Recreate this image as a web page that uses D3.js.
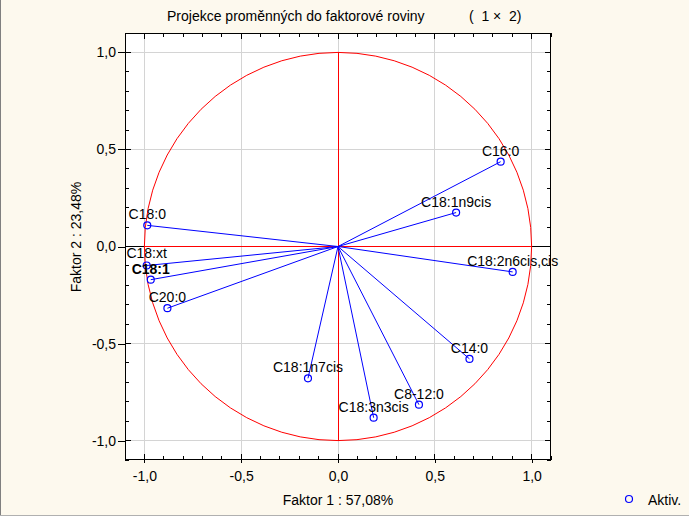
<!DOCTYPE html>
<html><head><meta charset="utf-8">
<script src="https://cdn.jsdelivr.net/npm/d3@7"></script>
<style>
html,body{margin:0;padding:0;background:#FDF9EE;}
text{font-family:"Liberation Sans",Arial,sans-serif;font-size:14px;fill:#000;}
</style></head>
<body>
<svg id="chart" width="689" height="516"></svg>
<script>
const variables = ["C16:0","C18:1n9cis","C18:2n6cis,cis","C14:0","C8-12:0","C18:3n3cis","C18:1n7cis","C18:0","C18:xt","C18:1","C20:0"];
const factor1 = [0.840,0.610,0.902,0.679,0.418,0.184,-0.155,-0.985,-0.988,-0.967,-0.881];
const factor2 = [0.437,0.175,-0.131,-0.579,-0.815,-0.882,-0.679,0.109,-0.098,-0.171,-0.318];
const boldLabel = [false,false,false,false,false,false,false,false,false,true,false];
const majorTicks = [-1.0,-0.5,0.0,0.5,1.0];
const title = "Projekce proměnných do faktorové roviny";
const titleSuffix = "(  1 \u00D7  2)";
const xTitle = "Faktor 1 : 57,08%";
const yTitle = "Faktor 2 : 23,48%";
const legendLabel = "Aktiv.";

const svg = d3.select("#chart");
const L=125,R=551,T=33,B=460;
const x = d3.scaleLinear().domain([-1.1,1.1]).range([L,R]);
const y = d3.scaleLinear().domain([-1.1,1.1]).range([B,T]);
const fmt = v => v.toFixed(1).replace(".",",");
const minorTicks = d3.range(-11,12).map(i=>i/10);

// window borders
svg.append("line").attr("x1",0.5).attr("x2",0.5).attr("y1",0).attr("y2",516).attr("stroke","#808080");
svg.append("line").attr("x1",0).attr("x2",689).attr("y1",515.5).attr("y2",515.5).attr("stroke","#b0b0b0");

// plot area
svg.append("rect").attr("x",L).attr("y",T).attr("width",R-L).attr("height",B-T).attr("fill","#fff");

// grid
const g = svg.append("g").attr("shape-rendering","crispEdges");
g.selectAll(".gx").data(majorTicks).join("line")
  .attr("x1",d=>x(d)).attr("x2",d=>x(d)).attr("y1",T).attr("y2",B).attr("stroke","#d4d4d4");
g.selectAll(".gy").data(majorTicks).join("line")
  .attr("y1",d=>y(d)).attr("y2",d=>y(d)).attr("x1",L).attr("x2",R).attr("stroke","#d4d4d4");
g.append("line").attr("x1",L).attr("x2",R).attr("y1",y(0)).attr("y2",y(0)).attr("stroke","#000");

// unit circle and red axes
svg.append("ellipse").attr("cx",x(0)).attr("cy",y(0))
  .attr("rx",x(1)-x(0)).attr("ry",y(0)-y(1)).attr("fill","none").attr("stroke","#ff0000").attr("stroke-width",1);
g.append("line").attr("x1",x(-1)).attr("x2",x(1)).attr("y1",y(0)).attr("y2",y(0)).attr("stroke","#ff0000");
g.append("line").attr("x1",x(0)).attr("x2",x(0)).attr("y1",y(1)).attr("y2",y(-1)).attr("stroke","#ff0000");

// axes
const axL = d3.axisLeft(y).tickValues(majorTicks).tickFormat(fmt).tickSize(7).tickPadding(2);
const axB = d3.axisBottom(x).tickValues(majorTicks).tickFormat(fmt).tickSize(3).tickPadding(8);
const gl = svg.append("g").attr("transform",`translate(${L},0)`).call(axL);
const gb = svg.append("g").attr("transform",`translate(0,${B})`).call(axB);
[gl,gb].forEach(a=>{a.select(".domain").remove();a.selectAll("line").attr("stroke","#000").attr("shape-rendering","crispEdges");
  a.selectAll("text").attr("font-family","Liberation Sans, Arial").attr("font-size",14).attr("fill","#000");});
const tk = svg.append("g").attr("stroke","#000").attr("shape-rendering","crispEdges");
tk.selectAll(".mb").data(minorTicks).join("line").attr("x1",d=>x(d)).attr("x2",d=>x(d)).attr("y1",B).attr("y2",d=>B-(majorTicks.includes(d)?6:4));
tk.selectAll(".mt").data(minorTicks).join("line").attr("x1",d=>x(d)).attr("x2",d=>x(d)).attr("y1",T).attr("y2",d=>T+(majorTicks.includes(d)?6:4));
tk.selectAll(".ml").data(minorTicks).join("line").attr("y1",d=>y(d)).attr("y2",d=>y(d)).attr("x1",L).attr("x2",d=>L+(majorTicks.includes(d)?6:4));
tk.selectAll(".mr").data(minorTicks).join("line").attr("y1",d=>y(d)).attr("y2",d=>y(d)).attr("x1",R).attr("x2",d=>R-(majorTicks.includes(d)?6:4));

// frame
svg.append("rect").attr("x",L+0.5).attr("y",T+0.5).attr("width",R-L-1).attr("height",B-T-1)
  .attr("fill","none").attr("stroke","#000").attr("shape-rendering","crispEdges");

// vectors
const data = variables.map((n,i)=>({n,a:factor1[i],b:factor2[i],bold:boldLabel[i]}));
svg.append("g").selectAll("line").data(data).join("line")
  .attr("x1",x(0)).attr("y1",y(0)).attr("x2",d=>x(d.a)).attr("y2",d=>y(d.b))
  .attr("stroke","#0000ff").attr("stroke-width",1);
svg.append("g").selectAll("circle").data(data).join("circle")
  .attr("cx",d=>x(d.a)).attr("cy",d=>y(d.b)).attr("r",3.5)
  .attr("fill","none").attr("stroke","#0000ff").attr("stroke-width",1.2);
svg.append("g").selectAll("text").data(data).join("text")
  .attr("x",d=>x(d.a)).attr("y",d=>y(d.b)-(d.n==="C18:xt"?8:6)).attr("text-anchor","middle")
  .attr("font-weight",d=>d.bold?"bold":"normal").attr("font-size",d=>d.bold?15:14)
  .text(d=>d.n);

// titles
svg.append("text").attr("x",167).attr("y",21).attr("font-size",14.5).text(title);
svg.append("text").attr("x",469).attr("y",21).attr("font-size",14.5).style("white-space","pre").text(titleSuffix);
svg.append("text").attr("x",x(0)).attr("y",505).attr("text-anchor","middle").text(xTitle);
svg.append("text").attr("transform",`translate(81,${237}) rotate(-90)`).attr("text-anchor","middle").text(yTitle);

// legend
svg.append("circle").attr("cx",629).attr("cy",499).attr("r",3.5).attr("fill","none").attr("stroke","#0000ff").attr("stroke-width",1.2);
svg.append("text").attr("x",648).attr("y",505).text(legendLabel);
</script>
</body></html>
